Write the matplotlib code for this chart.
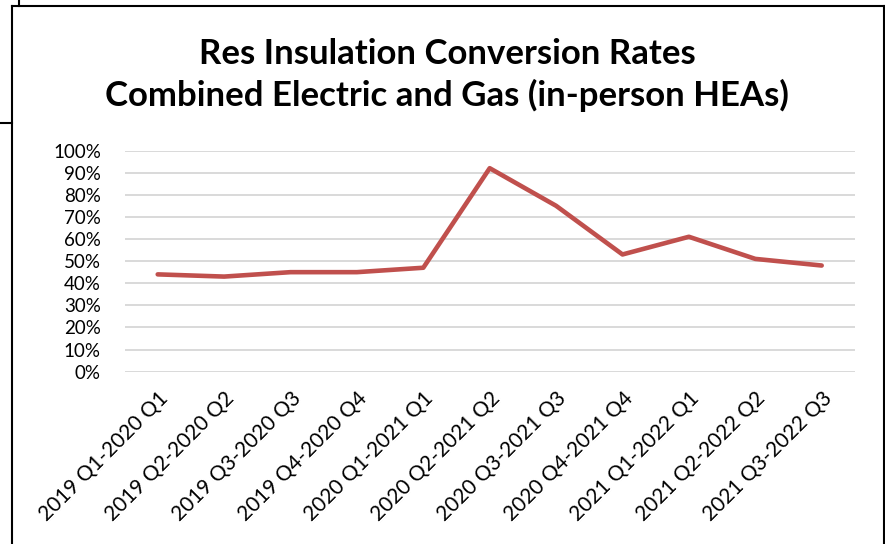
import matplotlib
matplotlib.use("Agg")
import matplotlib.pyplot as plt
from matplotlib.lines import Line2D
from matplotlib.ticker import PercentFormatter

categories = ["2019 Q1-2020 Q1", "2019 Q2-2020 Q2", "2019 Q3-2020 Q3", "2019 Q4-2020 Q4",
              "2020 Q1-2021 Q1", "2020 Q2-2021 Q2", "2020 Q3-2021 Q3", "2020 Q4-2021 Q4",
              "2021 Q1-2022 Q1", "2021 Q2-2022 Q2", "2021 Q3-2022 Q3"]
rates = [0.44, 0.43, 0.45, 0.45, 0.47, 0.92, 0.75, 0.53, 0.61, 0.51, 0.48]
yticks = [0, 0.1, 0.2, 0.3, 0.4, 0.5, 0.6, 0.7, 0.8, 0.9, 1.0]
title = "Res Insulation Conversion Rates\nCombined Electric and Gas (in-person HEAs)"

plt.rcParams['font.family'] = ['Lato', 'DejaVu Sans']

W, H = 885, 544
fig = plt.figure(figsize=(W / 100, H / 100), dpi=100)
ax = fig.add_axes([124.5 / W, 1 - 371.7 / H, 730.4 / W, 221.2 / H])

x = list(range(len(categories)))
ax.plot(x, rates, color="#c0504d", lw=3.3, solid_joinstyle="round", solid_capstyle="round", zorder=3)

ax.set_xlim(-0.5, len(categories) - 0.5)
ax.set_ylim(0, 1)
ax.set_yticks(yticks)
ax.yaxis.set_major_formatter(PercentFormatter(1.0, decimals=0))
ax.set_xticks(x)
ax.set_xticklabels(categories, rotation=45, ha="right", rotation_mode="anchor", fontsize=15)
ax.tick_params(axis="y", labelsize=13.5, length=0, pad=17)
ax.tick_params(axis="x", length=0, pad=12)
ax.grid(axis="y", color="#d9d9d9", lw=1.4)
ax.set_axisbelow(True)
for s in ax.spines.values():
    s.set_visible(False)

fig.text(447 / W, 1 - 75 / H, title, ha="center", va="center", fontsize=25,
         fontweight="bold", linespacing=1.35)

# frame lines
lw = 1.5
fig.add_artist(Line2D([11.7 / W, 11.7 / W], [0, 1 - 5.7 / H], color="black", lw=lw, transform=fig.transFigure))
fig.add_artist(Line2D([11.7 / W, 883.5 / W], [1 - 5.7 / H, 1 - 5.7 / H], color="black", lw=lw, transform=fig.transFigure))
fig.add_artist(Line2D([883.5 / W, 883.5 / W], [0, 1 - 5.7 / H], color="black", lw=lw, transform=fig.transFigure))
fig.add_artist(Line2D([19 / W, 19 / W], [1 - 5.7 / H, 1], color="black", lw=lw, transform=fig.transFigure))
fig.add_artist(Line2D([0, 11.7 / W], [1 - 123.3 / H, 1 - 123.3 / H], color="black", lw=lw, transform=fig.transFigure))

fig.savefig("out.png", dpi=100)
